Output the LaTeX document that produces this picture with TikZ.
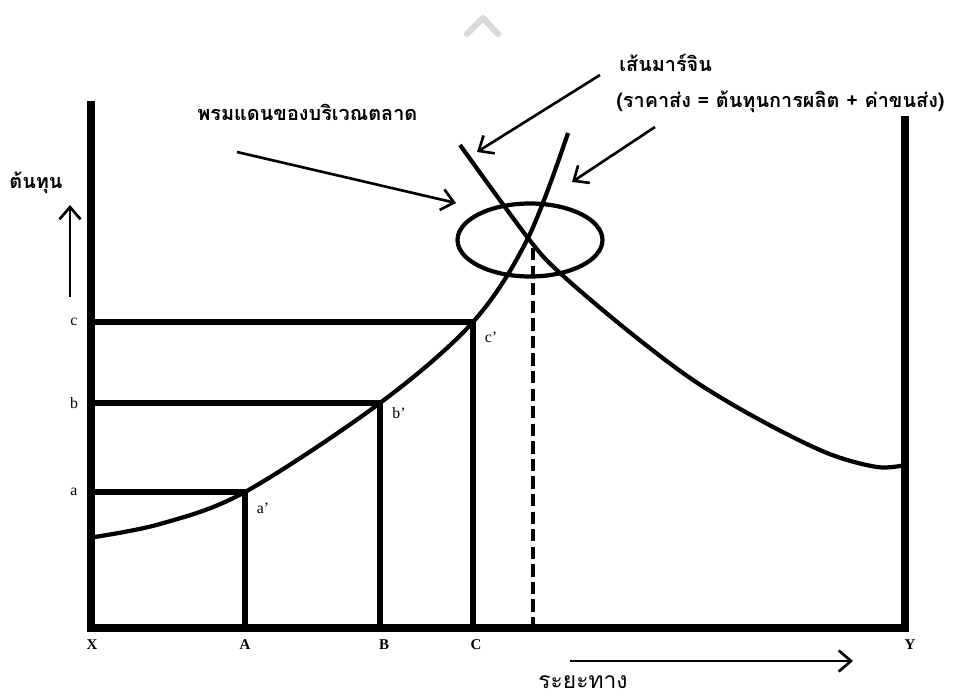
\documentclass[tikz,border=0pt]{standalone}
\usepackage{fontspec}
\setmainfont{Liberation Serif}
\newfontfamily\thaifont[Script=Thai]{Loma}
\usepackage{tikz}
\usetikzlibrary{arrows.meta, shapes.geometric}
\tikzset{
	axis/.style={line width=4pt, line cap=rect},
	guide/.style={line width=3.3pt},
	curve/.style={line width=2.4pt},
	pointer/.style={-{Straight Barb[length=7pt,width=12pt,line width=1.5pt]}, line width=1.5pt},
	lbl/.style={font=\fontsize{9}{10}\selectfont, inner sep=1pt},
	caps/.style={font=\bfseries\fontsize{8.5}{10}\selectfont, inner sep=1pt},
	thai/.style={font=\thaifont\bfseries\fontsize{11.3}{13}\selectfont, inner sep=0pt},
}

\begin{document}
\begin{tikzpicture}[x=0.02cm, y=-0.02cm]
			\useasboundingbox (0,0) rectangle (953,699);
			% faint mark at the top
			\draw[gray!30, line width=3.5pt, line cap=round, line join=round] (467,34) -- (483,18) -- (498,34);
			% axes
			\coordinate (top) at (91,105);
			\coordinate (X) at (91,628);
			\coordinate (Y) at (905,628);
			\coordinate (ytop) at (905,120);
			\draw[axis] (top) -- (X) -- (Y) -- (ytop);
			% points on the rising curve
			\coordinate (ap) at (245,492);
			\coordinate (bp) at (380,403);
			\coordinate (cp) at (473,322);
			\coordinate (ya) at (91,492);
			\coordinate (yb) at (91,403);
			\coordinate (yc) at (91,322);
			\coordinate (xa) at (245,628);
			\coordinate (xb) at (380,628);
			\coordinate (xc) at (473,628);
			\draw[guide] (ya) -- (ap) -- (xa);
			\draw[guide] (yb) -- (bp) -- (xb);
			\draw[guide] (yc) -- (cp) -- (xc);
			% the two curves
			\coordinate (cross) at (528,238);
			\coordinate (r0) at (88,538);
			\coordinate (r1) at (568,133);
			\draw[curve] plot[smooth, tension=0.55] coordinates {(r0) (160,524) (ap) (bp) (cp) (cross) (r1)};
			\coordinate (f0) at (460,145);
			\coordinate (f1) at (905,465);
			\draw[curve] plot[smooth, tension=0.55] coordinates {(f0) (cross) (560,273) (627,330) (693,380) (760,420) (827,453) (877,467) (f1)};
			% market border
			\node[draw, ellipse, line width=2.4pt, minimum width=2.9cm, minimum height=1.46cm] (zone) at (530,240) {};
			\coordinate (xm) at (533,628);
			\draw[line width=2.5pt, dash pattern=on 7pt off 3pt] (533,248) -- (xm);
			% texts and pointers
			\node[thai, anchor=west] (zonelbl) at (197,112) {พรมแดนของบริเวณตลาด};
			\coordinate (z0) at (237,152);
			\coordinate (z1) at (456,203);
			\draw[pointer] (z0) -- (z1);
			\node[thai, anchor=west] (margin) at (619,63) {เส้นมาร์จิน};
			\node[thai, anchor=west] (formula) at (616,102) {(ราคาส่ง = ต้นทุนการผลิต + ค่าขนส่ง)};
			\coordinate (m0) at (600,75);
			\coordinate (m1) at (477,152);
			\coordinate (m2) at (655,127);
			\coordinate (m3) at (572,182);
			\draw[pointer] (m0) -- (m1);
			\draw[pointer] (m2) -- (m3);
			\node[thai] (cost) at (36,183) {ต้นทุน};
			\coordinate (u0) at (70,297);
			\coordinate (u1) at (70,205);
			\draw[pointer] (u0) -- (u1);
			\node[thai, font=\thaifont\fontsize{13}{15}\selectfont, anchor=base] (dist) at (583,688) {ระยะทาง};
			\coordinate (d0) at (570,661);
			\coordinate (d1) at (853,661);
			\draw[pointer] (d0) -- (d1);
			% point labels
			\node[lbl] (la) at (74,492) {a};
			\node[lbl] (lb) at (74,403) {b};
			\node[lbl] (lc) at (74,322) {c};
			\node[lbl] (lap) at (263,508) {a'};
			\node[lbl] (lbp) at (399,413) {b'};
			\node[lbl] (lcp) at (491,337) {c'};
			\node[caps] (lX) at (92,645) {X};
			\node[caps] (lA) at (245,645) {A};
			\node[caps] (lB) at (384,645) {B};
			\node[caps] (lC) at (476,645) {C};
			\node[caps] (lY) at (910,645) {Y};
		\end{tikzpicture}
\end{document}
